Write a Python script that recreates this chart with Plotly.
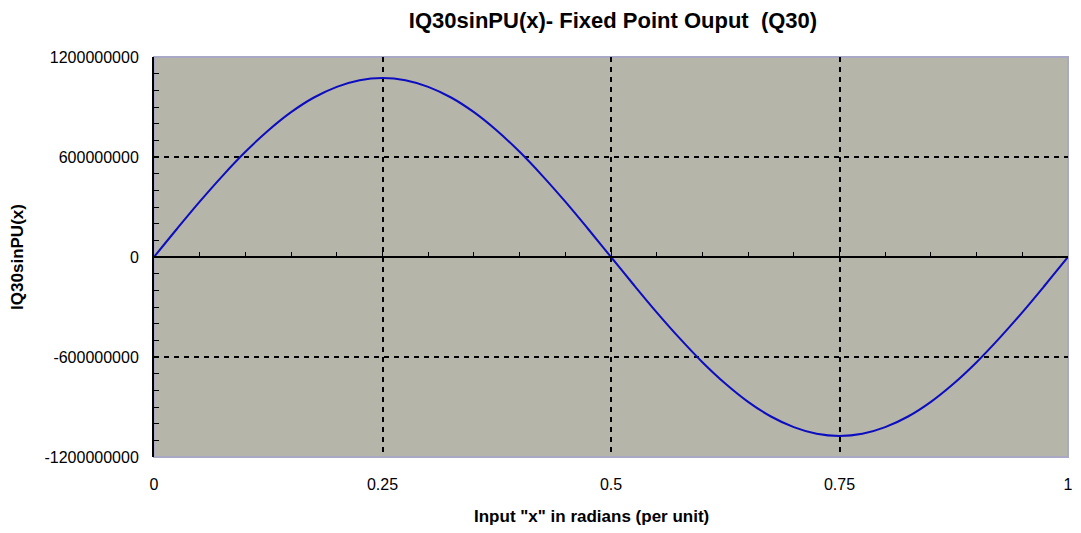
import plotly.graph_objects as go

# input x (per unit) and IQ30sinPU(x) output
x_vals = [0.0, 0.025, 0.05, 0.075, 0.1, 0.125, 0.15, 0.175, 0.2, 0.225,
          0.25, 0.275, 0.3, 0.325, 0.35, 0.375, 0.4, 0.425, 0.45, 0.475,
          0.5, 0.525, 0.55, 0.575, 0.6, 0.625, 0.65, 0.675, 0.7, 0.725,
          0.75, 0.775, 0.8, 0.825, 0.85, 0.875, 0.9, 0.925, 0.95, 0.975, 1.0]
q30_vals = [0, 168000000, 332000000, 487000000, 631000000, 759000000,
            869000000, 957000000, 1021000000, 1061000000, 1074000000,
            1061000000, 1021000000, 957000000, 869000000, 759000000,
            631000000, 487000000, 332000000, 168000000, 0,
            -168000000, -332000000, -487000000, -631000000, -759000000,
            -869000000, -957000000, -1021000000, -1061000000, -1074000000,
            -1061000000, -1021000000, -957000000, -869000000, -759000000,
            -631000000, -487000000, -332000000, -168000000, 0]

x_ticks = [0, 0.25, 0.5, 0.75, 1]
x_labels = ["0", "0.25", "0.5", "0.75", "1"]
y_ticks = [-1200000000, -600000000, 0, 600000000, 1200000000]
y_labels = ["-1200000000", "-600000000", "0", "600000000", "1200000000"]

FONT = "Liberation Sans, Arial, sans-serif"
BORDER = "#A9A9C6"
W, H = 1065, 525  # page body adds an 8px margin
L, R, T, B = 146, 5, 49, 76
PW, PH = W - L - R, H - T - B

fig = go.Figure()
fig.add_trace(go.Scatter(x=x_vals, y=q30_vals, mode="lines",
                         line=dict(color="#0C0CC0", width=2, shape="spline"),
                         showlegend=False))
# helper trace so the overlay axes (grid + zero line) get drawn
fig.add_trace(go.Scatter(x=[None], y=[None], xaxis="x2", yaxis="y2",
                         showlegend=False, hoverinfo="skip"))

fig.update_layout(
    width=W, height=H,
    margin=dict(l=L, r=R, t=T, b=B),
    paper_bgcolor="white",
    plot_bgcolor="#B6B5A9",
    font=dict(family=FONT, size=16, color="black"),
    title=dict(text="<b>IQ30sinPU(x)- Fixed Point Ouput  (Q30)</b>",
               x=605 / W, xanchor="center", y=1 - 12 / H, yanchor="middle",
               font=dict(size=22)),
    xaxis=dict(range=[0, 1], tickvals=x_ticks, ticktext=x_labels, automargin=False,
               showgrid=False, zeroline=False, showline=False, ticks="",
               ticklabelstandoff=16),
    yaxis=dict(range=[-1200000000, 1200000000], tickvals=y_ticks, ticktext=y_labels,
               automargin=False,
               showgrid=False, zeroline=False, showline=True, linecolor="black",
               linewidth=2, ticks="inside", ticklen=5, tickcolor="black",
               minor=dict(dtick=100000000, ticks="inside", ticklen=5, tickcolor="black"),
               ticklabelstandoff=10,
               title=dict(text="<b>IQ30sinPU(x)</b>", font=dict(size=17), standoff=17)),
    xaxis2=dict(range=[0, 1], overlaying="x", anchor="free", position=0.5,
                tickvals=[0.25, 0.5, 0.75], showticklabels=False, automargin=False,
                showgrid=True, gridcolor="black", griddash="5px,5px", gridwidth=2,
                zeroline=False, showline=True, linecolor="black", linewidth=2,
                ticks="inside", ticklen=4, tickcolor="black",
                minor=dict(dtick=0.05, ticks="inside", ticklen=4, tickcolor="black")),
    yaxis2=dict(range=[-1200000000, 1200000000], overlaying="y", anchor="x",
                tickvals=[-600000000, 600000000], showticklabels=False, automargin=False,
                showgrid=True, gridcolor="black", griddash="5px,5px", gridwidth=2,
                zeroline=False, showline=False, ticks=""),
    shapes=[dict(type="rect", xref="x domain", yref="y domain", x0=0, x1=1, y0=0, y1=1,
                 line=dict(color=BORDER, width=2), layer="below")],
    annotations=[dict(text='<b>Input "x" in radians (per unit)</b>',
                      xref="paper", yref="paper", x=(583 - L) / PW, y=(T + PH - 509) / PH,
                      xanchor="center", yanchor="middle", showarrow=False,
                      font=dict(size=17))],
)

fig.write_html("out.html")
